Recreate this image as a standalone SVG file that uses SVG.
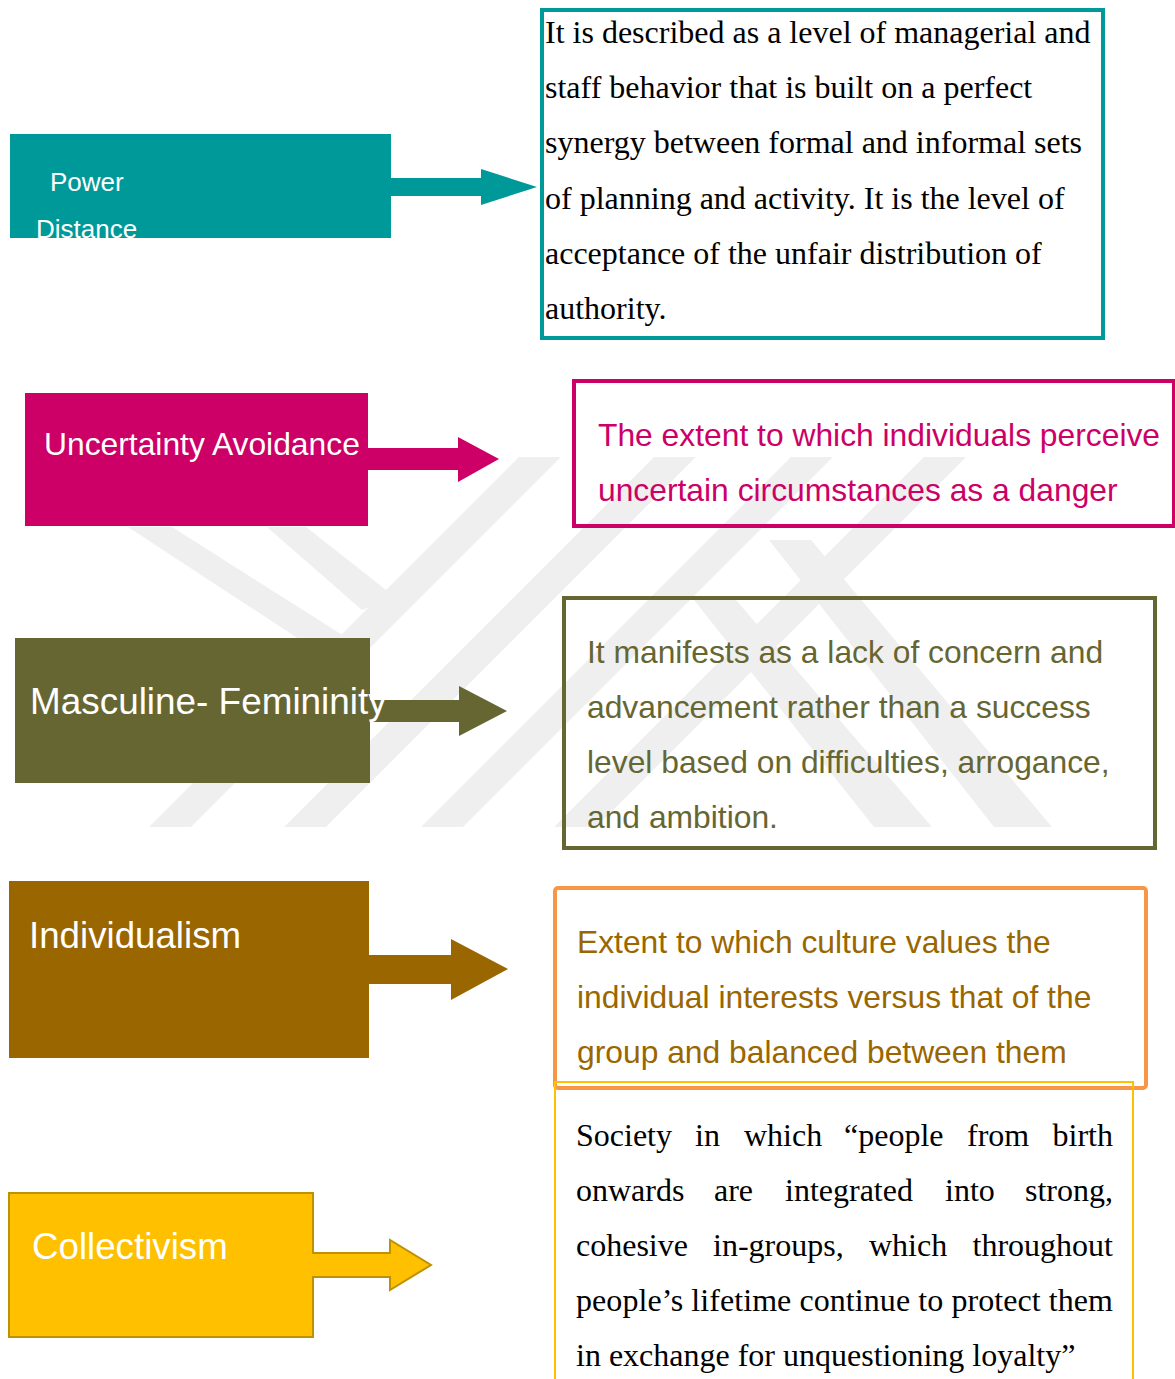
<svg xmlns="http://www.w3.org/2000/svg" width="1175" height="1379" viewBox="0 0 1175 1379">
  <defs>
    <style>
      .lbl { font-family: "Liberation Sans", Arial, sans-serif; fill: #ffffff; }
      .sans { font-family: "Liberation Sans", Arial, sans-serif; font-size: 31.8px; }
      .serif { font-family: "Liberation Serif", "Times New Roman", serif; font-size: 32px; fill: #000000; }
      .box { fill: none; }
      .wm { fill: #efefef; }
    </style>
    <clipPath id="wmClip">
      <rect x="0" y="457" width="1175" height="370"/>
    </clipPath>
  </defs>

  <rect width="1175" height="1379" fill="#ffffff"/>

  <!-- faint striped emblem in the background -->
  <g id="emblem" clip-path="url(#wmClip)">
    <polygon class="wm" points="519,457 561,457 191,827 149,827"/>
    <polygon class="wm" points="654,457 696,457 326,827 284,827"/>
    <polygon class="wm" points="791,457 833,457 463,827 421,827"/>
    <polygon class="wm" points="924,457 966,457 596,827 554,827"/>
    <polygon class="wm" points="128,527 172,527 355,643 305,643"/>
    <polygon class="wm" points="267,527 306,527 395,597 362,610"/>
    <polygon class="wm" points="694,600 736,600 932,827 874,827"/>
    <polygon class="wm" points="769,540 811,540 1052,827 994,827"/>
  </g>

  <!-- connectors -->
  <g id="connectors">
    <polygon fill="#009999" points="390,178 481,178 481,169 537,187 481,205 481,196 390,196"/>
    <polygon fill="#cc0066" points="366,448 458,448 458,437 499,459 458,482 458,470 366,470"/>
    <polygon fill="#666633" points="369,700 459,700 459,686 507,711 459,736 459,722 369,722"/>
    <polygon fill="#996600" points="368,955 451,955 451,939 508,969 451,1000 451,984 368,984"/>
  </g>

  <!-- Power Distance -->
  <g id="power-distance">
    <rect x="10" y="134" width="381" height="104" fill="#009999"/>
    <text class="lbl" x="50" y="191" font-size="26">Power</text>
    <text class="lbl" x="36" y="238" font-size="26">Distance</text>
  </g>
  <g id="power-distance-text">
    <rect class="box" x="542" y="10" width="561" height="328" stroke="#009999" stroke-width="4"/>
    <text class="serif" x="545" y="43">It is described as a level of managerial and</text>
    <text class="serif" x="545" y="98">staff behavior that is built on a perfect</text>
    <text class="serif" x="545" y="153">synergy between formal and informal sets</text>
    <text class="serif" x="545" y="209">of planning and activity. It is the level of</text>
    <text class="serif" x="545" y="264">acceptance of the unfair distribution of</text>
    <text class="serif" x="545" y="319">authority.</text>
  </g>

  <!-- Uncertainty Avoidance -->
  <g id="uncertainty-avoidance">
    <rect x="25" y="393" width="343" height="133" fill="#cc0066"/>
    <text class="lbl" x="44" y="455" font-size="31.8">Uncertainty Avoidance</text>
  </g>
  <g id="uncertainty-avoidance-text">
    <rect class="box" x="574" y="381" width="600" height="145" stroke="#cc0066" stroke-width="4"/>
    <text class="sans" x="598" y="446" fill="#cc0066">The extent to which individuals perceive</text>
    <text class="sans" x="598" y="501" fill="#cc0066">uncertain circumstances as a danger</text>
  </g>

  <!-- Masculine- Femininity -->
  <g id="masculine-femininity">
    <rect x="15" y="638" width="355" height="145" fill="#666633"/>
    <text class="lbl" x="30" y="714" font-size="36.9">Masculine- Femininity</text>
  </g>
  <g id="masculine-femininity-text">
    <rect class="box" x="564" y="598" width="591" height="250" stroke="#666633" stroke-width="4"/>
    <text class="sans" x="587" y="663" fill="#666633">It manifests as a lack of concern and</text>
    <text class="sans" x="587" y="718" fill="#666633">advancement rather than a success</text>
    <text class="sans" x="587" y="773" fill="#666633">level based on difficulties, arrogance,</text>
    <text class="sans" x="587" y="828" fill="#666633">and ambition.</text>
  </g>

  <!-- Individualism -->
  <g id="individualism">
    <rect x="9" y="881" width="360" height="177" fill="#996600"/>
    <text class="lbl" x="29" y="948" font-size="36.7">Individualism</text>
  </g>
  <g id="individualism-text">
    <rect class="box" x="555" y="888" width="591" height="200" rx="3" stroke="#f79646" stroke-width="4"/>
    <text class="sans" x="577" y="953" fill="#996600">Extent to which culture values the</text>
    <text class="sans" x="577" y="1008" fill="#996600">individual interests versus that of the</text>
    <text class="sans" x="577" y="1063" fill="#996600">group and balanced between them</text>
  </g>

  <!-- Collectivism (box and arrow share one outline) -->
  <g id="collectivism">
    <path d="M9,1193 H313 V1253 H390 V1240 L431,1265 L390,1290 V1277 H313 V1337 H9 Z" fill="#ffc000" stroke="#bf9000" stroke-width="2"/>
    <text class="lbl" x="32" y="1259" font-size="36.7">Collectivism</text>
  </g>
  <g id="collectivism-text">
    <rect class="box" x="555" y="1082" width="578" height="320" stroke="#ffc000" stroke-width="2"/>
    <g class="serif">
      <text x="576" y="1146">Society</text>
      <text x="695" y="1146">in</text>
      <text x="744" y="1146">which</text>
      <text x="844" y="1146">“people</text>
      <text x="967" y="1146">from</text>
      <text x="1113" y="1146" text-anchor="end">birth</text>

      <text x="576" y="1201">onwards</text>
      <text x="714" y="1201">are</text>
      <text x="785" y="1201">integrated</text>
      <text x="945" y="1201">into</text>
      <text x="1113" y="1201" text-anchor="end">strong,</text>

      <text x="576" y="1256">cohesive</text>
      <text x="713" y="1256">in-groups,</text>
      <text x="869" y="1256">which</text>
      <text x="1113" y="1256" text-anchor="end">throughout</text>

      <text x="576" y="1311" textLength="537" lengthAdjust="spacing">people’s lifetime continue to protect them</text>
      <text x="576" y="1366">in exchange for unquestioning loyalty”</text>
    </g>
  </g>
</svg>
